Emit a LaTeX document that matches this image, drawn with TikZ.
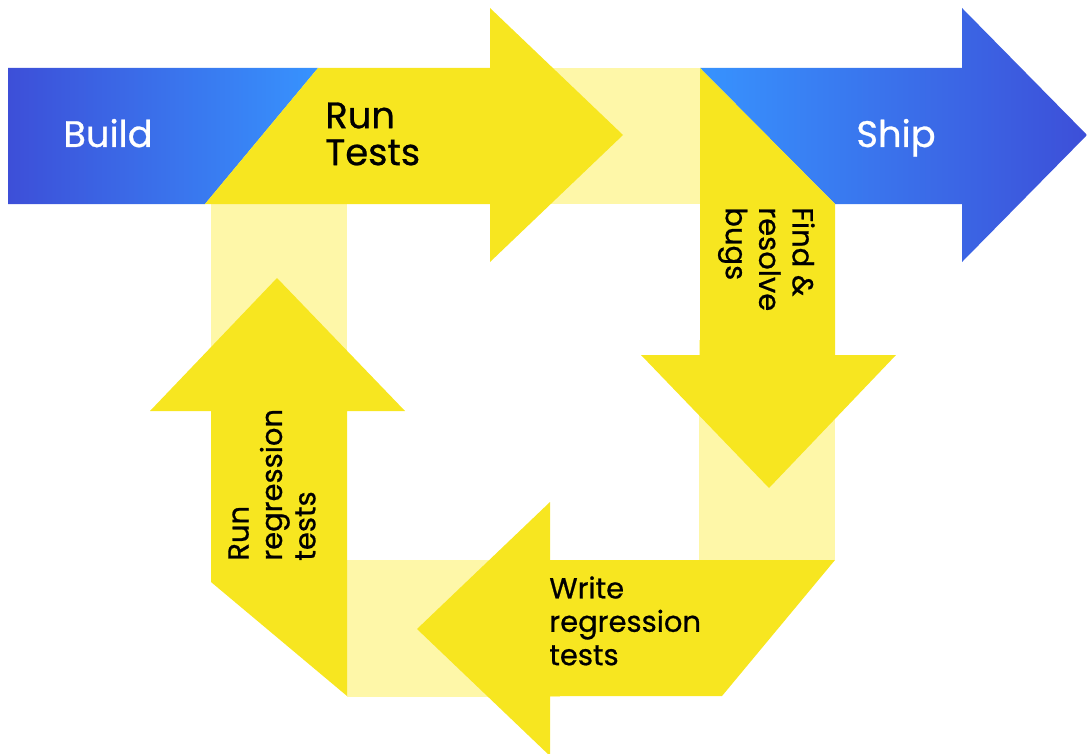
\documentclass[tikz,border=0pt]{standalone}
\usepackage{fontspec}
\setmainfont{Poppins}[FakeBold=0.7]
\usepackage{tikz}
\definecolor{shipdark}{HTML}{3D4FD8}
\definecolor{shiplight}{HTML}{3793FE}
\definecolor{testyellow}{HTML}{F7E620}
\definecolor{paleyellow}{HTML}{FEF7A8}
\tikzset{bright/.style={fill=testyellow},
	pale/.style={fill=paleyellow},
	bigtext/.style={font=\fontsize{21}{21}\selectfont, inner sep=0pt},
	smalltext/.style={font=\fontsize{16.5}{19}\selectfont, align=left, inner sep=0pt}}

\begin{document}
\begin{tikzpicture}
    [x=0.02cm, y=-0.02cm]
    \useasboundingbox (0,0) rectangle (1087,753);
    %	pale bands behind the loop
    \fill[pale] (490,68) rectangle (700,204);
    \fill[pale] (699,340) rectangle (835,560);
    \fill[pale] (347,560) rectangle (560,697);
    \fill[pale] (211,204) rectangle (347,420);
    \shade[left color=shipdark, right color=shiplight] (8,68) -- (318,68) -- (205,204) -- (8,204) -- cycle;
    \shade[left color=shiplight, right color=shipdark] (700,68) -- (962,68) -- (962,8) -- (1087,135) -- (962,262) -- (962,204) -- (835,204) -- cycle;
    \fill[bright] (318,68) -- (490,68) -- (490,8) -- (623,135) -- (490,262) -- (490,204) -- (205,204) -- cycle;
    \fill[bright] (700,68) -- (835,204) -- (835,355) -- (896,355) -- (769,488) -- (641,355) -- (700,355) -- cycle;
    \fill[bright] (835,560) -- (722,696) -- (550,696) -- (550,756) -- (417,629) -- (550,502) -- (550,560) -- cycle;
    \fill[bright] (211,411) -- (150,411) -- (277,278) -- (405,411) -- (347,411) -- (347,696) -- (211,582) -- cycle;
    \node[bigtext, text=white, anchor=base] (build) at (108,147){Build};
    \node[bigtext, text=white, anchor=base] (ship) at (896,147){Ship};
    \node[bigtext, align=left, anchor=west] (runtests) at (325,134){Run\\Tests};
    \node[smalltext, rotate=-90, anchor=north west] (findbugs) at (815,207){Find \&\\resolve\\bugs};
    \node[smalltext, anchor=north west] (writetests) at (549,576){Write\\regression\\tests};
    \node[smalltext, rotate=90, anchor=north west] (runregr) at (228,561){Run\\regression\\tests};
\end{tikzpicture}
\end{document}
